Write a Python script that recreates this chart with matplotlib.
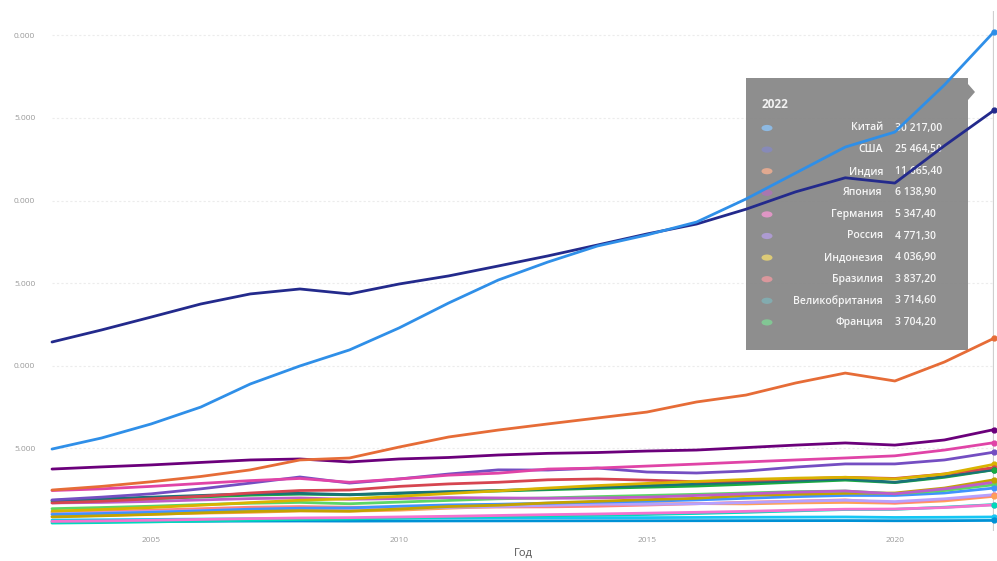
import matplotlib
matplotlib.use("Agg")
import matplotlib.pyplot as plt
from matplotlib.patches import Polygon, Circle
from matplotlib.colors import to_rgb
from matplotlib.ticker import FuncFormatter, FixedLocator

plt.rcParams['font.family'] = ['Open Sans', 'DejaVu Sans']

years = list(range(2003, 2023))

# GDP by country, billions
china = [4960, 5630, 6480, 7500, 8900, 9990, 10960, 12290, 13800, 15190,
         16280, 17250, 17920, 18700, 20100, 21670, 23240, 24150, 27000, 30217.00]
usa = [11440, 12170, 12950, 13740, 14350, 14650, 14350, 14950, 15440, 16040,
       16650, 17310, 17980, 18580, 19480, 20530, 21380, 21060, 23320, 25464.50]
india = [2480, 2700, 2980, 3300, 3700, 4300, 4420, 5080, 5690, 6110,
         6480, 6840, 7200, 7810, 8230, 8960, 9560, 9080, 10230, 11665.40]
japan = [3750, 3880, 4000, 4150, 4300, 4360, 4180, 4360, 4450, 4600,
         4700, 4750, 4840, 4900, 5050, 5200, 5330, 5200, 5510, 6138.90]
germany = [2450, 2550, 2700, 2880, 3050, 3180, 2950, 3150, 3380, 3500,
           3750, 3810, 3930, 4050, 4180, 4300, 4420, 4550, 4900, 5347.40]
russia = [1880, 2050, 2250, 2550, 2900, 3270, 2900, 3150, 3450, 3700,
          3690, 3810, 3570, 3510, 3630, 3870, 4060, 4060, 4300, 4771.30]
indonesia = [1200, 1300, 1420, 1560, 1720, 1860, 1950, 2100, 2270, 2430,
             2600, 2750, 2880, 3000, 3120, 3200, 3250, 3150, 3450, 4036.90]
brazil = [1700, 1800, 1950, 2100, 2300, 2450, 2480, 2700, 2850, 2950,
          3100, 3150, 3080, 2980, 3050, 3150, 3250, 3180, 3450, 3837.20]
uk = [1850, 1950, 2050, 2150, 2250, 2280, 2200, 2300, 2380, 2450,
      2550, 2650, 2750, 2850, 2950, 3050, 3150, 2950, 3300, 3714.60]
france = [1800, 1870, 1960, 2060, 2170, 2230, 2190, 2270, 2360, 2420,
          2500, 2580, 2650, 2720, 2830, 2960, 3080, 2930, 3250, 3704.20]
italy = [1700, 1730, 1790, 1880, 1960, 2000, 1920, 1960, 2020, 2000,
         1980, 2000, 2050, 2150, 2250, 2350, 2420, 2250, 2550, 2950]
mexico = [1350, 1420, 1500, 1600, 1680, 1730, 1650, 1750, 1850, 1950,
          2000, 2080, 2150, 2220, 2300, 2380, 2420, 2250, 2450, 2800]
turkey = [850, 920, 1000, 1100, 1180, 1230, 1200, 1330, 1480, 1560,
          1700, 1800, 1900, 1980, 2150, 2220, 2280, 2300, 2600, 3100]
korea = [1000, 1060, 1130, 1220, 1320, 1380, 1400, 1500, 1580, 1620,
         1680, 1750, 1800, 1880, 1980, 2080, 2150, 2150, 2300, 2600]
canada = [1050, 1100, 1170, 1240, 1300, 1340, 1300, 1360, 1430, 1480,
          1550, 1620, 1620, 1650, 1720, 1800, 1860, 1780, 1950, 2200]
spain = [1120, 1180, 1260, 1350, 1440, 1480, 1440, 1440, 1460, 1450,
         1460, 1500, 1570, 1650, 1740, 1810, 1880, 1700, 1900, 2150]
saudi = [880, 940, 1020, 1080, 1130, 1210, 1200, 1260, 1380, 1480,
         1540, 1620, 1650, 1660, 1640, 1700, 1730, 1680, 1820, 2100]
australia = [580, 610, 650, 700, 750, 790, 810, 850, 890, 940,
             990, 1030, 1080, 1130, 1190, 1260, 1320, 1330, 1420, 1580]
poland = [480, 510, 550, 600, 650, 700, 730, 780, 840, 880,
          920, 960, 1000, 1060, 1130, 1220, 1300, 1310, 1440, 1600]
thailand = [660, 680, 700, 720, 740, 760, 760, 780, 790, 800,
            810, 810, 810, 820, 830, 840, 850, 820, 830, 850]
netherlands = [560, 570, 580, 590, 600, 605, 600, 605, 610, 612,
               615, 618, 620, 622, 625, 628, 630, 620, 625, 640]

series = [
    ("Китай", china, "#2F8FE8"),
    ("США", usa, "#232A8C"),
    ("Индия", india, "#E66C37"),
    ("Япония", japan, "#6B007B"),
    ("Германия", germany, "#E044A7"),
    ("Россия", russia, "#744EC2"),
    ("Индонезия", indonesia, "#D9B300"),
    ("Бразилия", brazil, "#D64550"),
    ("Великобритания", uk, "#197278"),
    ("Франция", france, "#1AAB40"),
    ("Италия", italy, "#BE5DC9"),
    ("Мексика", mexico, "#5BD667"),
    ("Турция", turkey, "#C4A200"),
    ("Южная Корея", korea, "#4092FF"),
    ("Канада", canada, "#B5A1FF"),
    ("Испания", spain, "#FF8080"),
    ("Саудовская Аравия", saudi, "#FFA058"),
    ("Австралия", australia, "#F472D0"),
    ("Польша", poland, "#00DBBC"),
    ("Таиланд", thailand, "#15C6F4"),
    ("Нидерланды", netherlands, "#0091D5"),
]

tooltip_year = "2022"
tooltip_count = 10
y_ticks = [5000, 10000, 15000, 20000, 25000, 30000]
x_ticks = [2005, 2010, 2015, 2020]

W, H = 997, 561
fig = plt.figure(figsize=(W / 100, H / 100), dpi=100)
fig.patch.set_facecolor("white")


def px(x, y):
    return (x / W, 1 - y / H)


def pale(c, k=0.5):
    r, g, b = to_rgb(c)
    return (r + (1 - r) * k, g + (1 - g) * k, b + (1 - b) * k)


ax_left, ax_right, ax_top, ax_bottom = 52, 994, 10.6, 531
ax = fig.add_axes([ax_left / W, 1 - ax_bottom / H,
                   (ax_right - ax_left) / W, (ax_bottom - ax_top) / H])
ax.set_xlim(2003, 2022)
ax.set_ylim(0, 31500)
for s in ax.spines.values():
    s.set_visible(False)

ax.yaxis.set_major_locator(FixedLocator(y_ticks))
ax.yaxis.set_major_formatter(FuncFormatter(lambda v, p: f"{int(v) // 1000 % 10}.000"))
ax.xaxis.set_major_locator(FixedLocator(x_ticks))
ax.tick_params(axis="both", length=0, labelsize=6, colors="#9a9a9a")
ax.tick_params(axis="y", pad=12)
ax.tick_params(axis="x", pad=4)
ax.grid(axis="y", color="#ececec", linestyle=(0, (2, 2)), linewidth=0.8)
ax.set_axisbelow(True)
ax.set_xlabel("Год", fontsize=8, color="#555555", labelpad=3)

# hover guide at the last year
ax.axvline(2022, color="#cfcfcf", linewidth=1.6, zorder=1.2)

# tooltip box with small pointer on the right
box = [px(746, 78), px(968, 78), px(968, 84), px(975, 92), px(968, 100),
       px(968, 350), px(746, 350)]
ax.add_patch(Polygon(box, closed=True, transform=fig.transFigure,
                     facecolor="#8a8a8a", edgecolor="none", alpha=0.97,
                     clip_on=False, zorder=1.5))
ax.text(*px(762, 104), tooltip_year, transform=fig.transFigure, color="#f2f2f2",
        fontsize=8.5, fontweight="bold", va="center", ha="left", zorder=1.6)
ranked = sorted(series, key=lambda s: s[1][-1], reverse=True)[:tooltip_count]
for i, (name, vals, col) in enumerate(ranked):
    yy = 128 + i * 21.6
    ax.add_patch(Circle(px(767, yy), radius=5.5 / W, transform=fig.transFigure,
                        facecolor=pale(col, 0.45), alpha=0.85, edgecolor="none",
                        clip_on=False, zorder=1.6))
    ax.text(*px(883, yy), name, transform=fig.transFigure, color="#f6f6f6",
            fontsize=7.5, fontweight="semibold", ha="right", va="center",
            zorder=1.6)
    val = f"{vals[-1]:,.2f}".replace(",", " ").replace(".", ",")
    ax.text(*px(895, yy), val, transform=fig.transFigure, color="#f6f6f6",
            fontsize=7.5, fontweight="semibold", ha="left", va="center",
            zorder=1.6)

# lines, largest economies on top
n = len(series)
for i, (name, vals, col) in enumerate(series):
    ax.plot(years, vals, color=col, linewidth=2.0, solid_capstyle="round",
            zorder=2 + (n - i) * 0.01, clip_on=False)
    ax.plot(years[-1], vals[-1], "o", color=col, markersize=3.5,
            zorder=2.5, clip_on=False)

fig.savefig("out.png", dpi=100, facecolor="white")
